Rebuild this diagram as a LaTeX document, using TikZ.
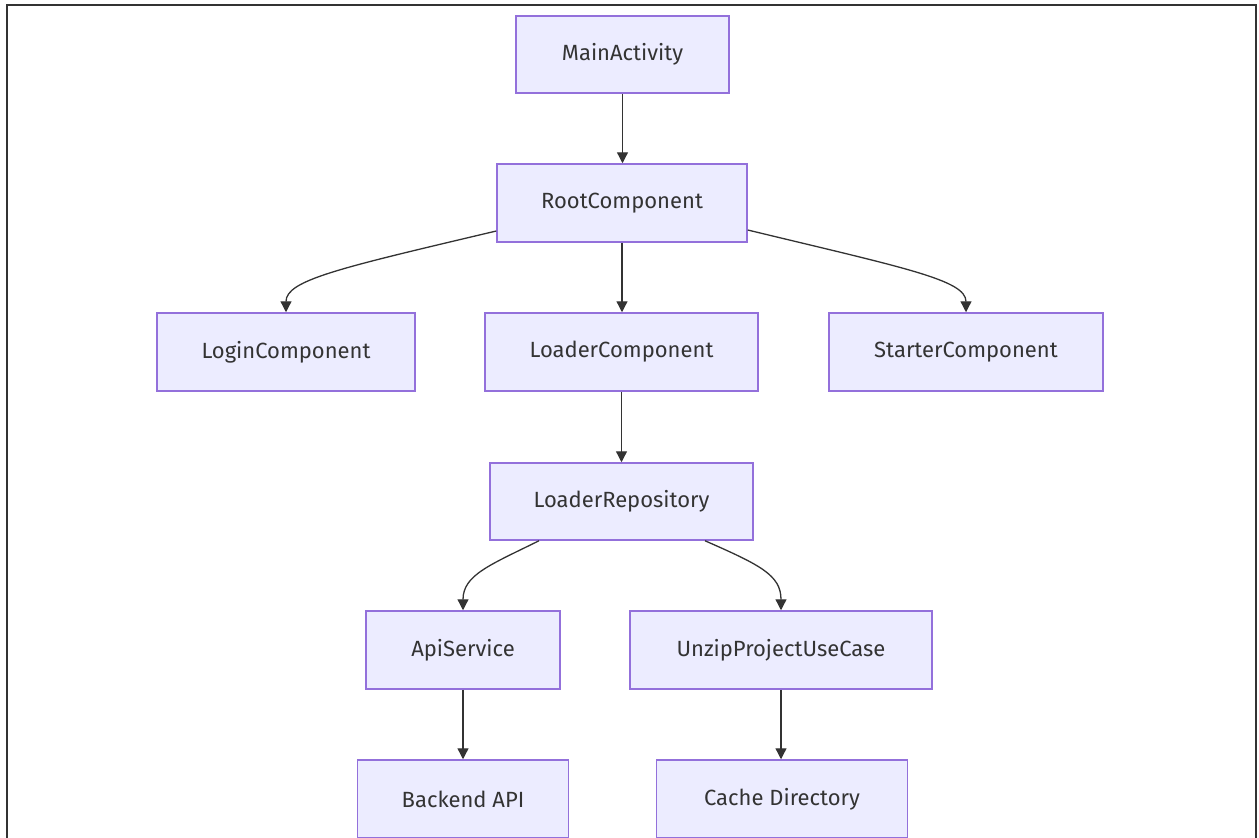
\documentclass[tikz,border=0pt]{standalone}
\usepackage{fontspec}
\setmainfont{Fira Sans}
\usetikzlibrary{arrows.meta}
\definecolor{nodefill}{HTML}{ECECFF}
\definecolor{nodeline}{HTML}{9370DB}
\definecolor{ink}{HTML}{333333}
\begin{document}
\begin{tikzpicture}[x=1pt,y=-1pt,
  box/.style={draw=nodeline,fill=nodefill,line width=1.5pt,inner sep=0pt,
    text=ink,font=\fontsize{22}{26}\selectfont},
  link/.style={draw=ink,line width=1.3pt,-{Triangle[length=11pt,width=11pt]}}]
\useasboundingbox (0,0) rectangle (1259,838);
\clip (0,0) rectangle (1259,838);
\draw[ink,line width=1.8pt] (7,860) -- (7,5) -- (1256,5) -- (1256,860);
\node[box,minimum width=213pt,minimum height=77pt] (main) at (622.5,54.5) {MainActivity};
\node[box,minimum width=250pt,minimum height=78pt] (root) at (622,203) {RootComponent};
\node[box,minimum width=258pt,minimum height=78pt] (login) at (286,352) {LoginComponent};
\node[box,minimum width=273pt,minimum height=78pt] (loader) at (621.5,352) {LoaderComponent};
\node[box,minimum width=274pt,minimum height=78pt] (starter) at (966,352) {StarterComponent};
\node[box,minimum width=263pt,minimum height=77pt] (repo) at (621.5,501.5) {LoaderRepository};
\node[box,minimum width=194pt,minimum height=78pt] (api) at (463,650) {ApiService};
\node[box,minimum width=302pt,minimum height=78pt] (unzip) at (781,650) {UnzipProjectUseCase};
\node[box,minimum width=211pt,minimum height=78pt] (backend) at (463,799) {Backend API};
\node[box,minimum width=251pt,minimum height=78pt] (cache) at (782,799) {Cache Directory};
\draw[link] (main.south) -- (main.south |- root.north);
\draw[link] (root.south) -- (root.south |- loader.north);
\draw[link] (loader.south) -- (loader.south |- repo.north);
\draw[link] ([yshift=-28pt]root.west) .. controls (340,268) and (286,280) .. (login.north);
\draw[link] ([yshift=-27pt]root.east) .. controls (905,268) and (966,280) .. (starter.north);
\draw[link] ([xshift=-82.5pt]repo.south) .. controls (490,565) and (463,575) .. (api.north);
\draw[link] ([xshift=83.5pt]repo.south) .. controls (760,565) and (781,575) .. (unzip.north);
\draw[link] (api.south) -- (api.south |- backend.north);
\draw[link] (unzip.south) -- (unzip.south |- cache.north);
\end{tikzpicture}
\end{document}
